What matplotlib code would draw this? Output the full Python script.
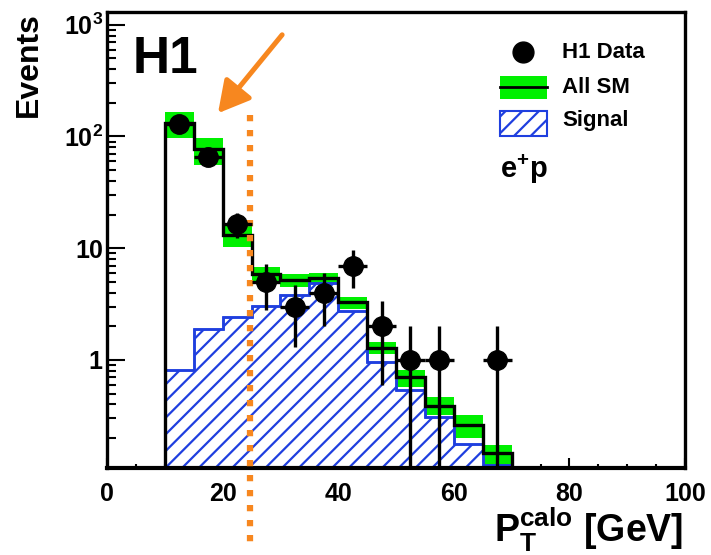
import numpy as np
import matplotlib
matplotlib.use("Agg")
import matplotlib.pyplot as plt
from matplotlib.patches import Rectangle
from matplotlib.ticker import MultipleLocator, LogLocator, FixedLocator, FixedFormatter, NullFormatter
import matplotlib.transforms as mtransforms

plt.rcParams["font.family"] = ["Liberation Sans", "DejaVu Sans"]
plt.rcParams["font.weight"] = "bold"
plt.rcParams["mathtext.fontset"] = "custom"
plt.rcParams["mathtext.rm"] = "Liberation Sans:bold"
plt.rcParams["mathtext.bf"] = "Liberation Sans:bold"
plt.rcParams["mathtext.it"] = "Liberation Sans:bold"
plt.rcParams["hatch.linewidth"] = 1.6

# bins of 5 GeV from 10 to 70
edges = [10, 15, 20, 25, 30, 35, 40, 45, 50, 55, 60, 65, 70]
sm = [132, 77, 13.2, 5.9, 5.2, 5.4, 3.3, 1.28, 0.70, 0.39, 0.26, 0.147]
sm_lo = [97, 56, 10.2, 5.1, 4.5, 4.7, 2.86, 1.13, 0.57, 0.32, 0.20, 0.115]
sm_hi = [166, 97, 15.8, 6.8, 5.9, 6.0, 3.66, 1.45, 0.81, 0.47, 0.32, 0.174]
signal = [0.81, 1.9, 2.4, 3.05, 3.8, 4.9, 2.75, 0.96, 0.54, 0.31, 0.177, 0.115]

data_x = [12.5, 17.5, 22.5, 27.5, 32.5, 37.5, 42.5, 47.5, 52.5, 57.5, 67.5]
data_y = [130, 66, 16.5, 5, 3, 4, 7, 2, 1, 1, 1]
data_err_lo = [11.4, 8.1, 4.1, 2.2, 1.7, 2.0, 2.6, 1.4, 0.999, 0.999, 0.999]
data_err_hi = [11.4, 8.1, 4.1, 2.2, 1.7, 2.0, 2.6, 1.4, 1.0, 1.0, 1.0]

green = "#00f000"
blue = "#1f3fdf"
orange = "#f7871f"

fig = plt.figure(figsize=(7.11, 5.55), dpi=100)
ax = fig.add_axes([107 / 711, 87 / 555, 578 / 711, 456 / 555])
ax.set_yscale("log")
ax.set_xlim(0, 100)
ax.set_ylim(0.108, 1300)

edges = np.array(edges)
centers = (edges[:-1] + edges[1:]) / 2
lo = np.array(sm_lo)
hi = np.array(sm_hi)

# SM uncertainty band
ax.bar(centers, hi - lo, bottom=lo, width=5, color=green, lw=0, zorder=1)
# signal
ax.stairs(signal, edges, baseline=1e-3, fill=True, facecolor="white",
          edgecolor=blue, hatch="//", lw=1.8, zorder=2)
ax.stairs(signal, edges, baseline=1e-3, fill=False, color=blue, lw=1.8, zorder=2.5)
# SM line
ax.stairs(sm, edges, baseline=1e-3, color="black", lw=2.4, zorder=3)

# data
ax.errorbar(data_x, data_y, yerr=[data_err_lo, data_err_hi], xerr=2.5, fmt="o",
            color="black", ms=14, elinewidth=2.4, capsize=0, zorder=5)

# cut line
trans = mtransforms.blended_transform_factory(ax.transData, ax.transAxes)
ax.plot([24.75, 24.75], [0.774, -0.169], transform=trans, color=orange, lw=4.5,
        linestyle=(0, (1, 1.4)), dash_capstyle="butt", clip_on=False, zorder=4)

# arrow
ax.annotate("", xy=(0.192, 0.778), xytext=(0.303, 0.950), xycoords="axes fraction",
            arrowprops=dict(arrowstyle="-|>,head_length=0.95,head_width=0.52",
                            mutation_scale=20, lw=3.6, color=orange,
                            shrinkA=0, shrinkB=0))

# texts
ax.text(0.045, 0.866, "H1", transform=ax.transAxes, fontsize=37, fontweight="bold",
        va="baseline", ha="left")

# legend drawn by hand
ax.plot([0.720], [0.912], "o", color="black", ms=15, transform=ax.transAxes, clip_on=False)
ax.text(0.787, 0.912, "H1 Data", transform=ax.transAxes, fontsize=16, va="center")
ax.add_patch(Rectangle((0.680, 0.809), 0.0813, 0.050, transform=ax.transAxes,
                       facecolor=green, lw=0))
ax.plot([0.680, 0.7613], [0.835, 0.835], color="black", lw=2, transform=ax.transAxes)
ax.text(0.787, 0.835, "All SM", transform=ax.transAxes, fontsize=16, va="center")
ax.add_patch(Rectangle((0.680, 0.728), 0.0813, 0.055, transform=ax.transAxes,
                       facecolor="white", edgecolor=blue, hatch="//", lw=1.5))
ax.text(0.787, 0.763, "Signal", transform=ax.transAxes, fontsize=16, va="center")
ax.text(0.680, 0.636, r"$\mathbf{e^{+}p}$", transform=ax.transAxes, fontsize=21,
        va="baseline", ha="left")

# axes styling
for side in ["left", "right", "top"]:
    ax.spines[side].set_linewidth(2.4)
ax.spines["bottom"].set_linewidth(3)

ax.xaxis.set_major_locator(MultipleLocator(20))
ax.xaxis.set_minor_locator(MultipleLocator(5))
ax.yaxis.set_major_locator(FixedLocator([1, 10, 100, 1000]))
ax.yaxis.set_major_formatter(FixedFormatter(["1", "10", r"$\mathbf{10^{2}}$", r"$\mathbf{10^{3}}$"]))
ax.yaxis.set_minor_locator(LogLocator(base=10, subs=np.arange(2, 10)))
ax.yaxis.set_minor_formatter(NullFormatter())

ax.tick_params(axis="x", which="major", direction="in", length=7, width=1.5,
               labelsize=18, pad=10, top=False)
ax.tick_params(axis="x", which="minor", direction="in", length=3, width=1.5, top=False)
ax.tick_params(axis="y", which="major", direction="in", length=13, width=1.5,
               labelsize=18, pad=3, right=False)
ax.tick_params(axis="y", which="minor", direction="in", length=6.5, width=1.5, right=False)
for lab in ax.get_xticklabels() + ax.get_yticklabels():
    lab.set_fontweight("bold")

fig.text(29 / 711, 1 - 65 / 555, "Events", rotation=90, fontsize=23, fontweight="bold",
         ha="center", va="center")
fig.text(683 / 711, 13 / 555, r"$\mathbf{P_{T}^{calo}}$ [GeV]", fontsize=27,
         fontweight="bold", ha="right", va="baseline")

fig.savefig("out.png", dpi=100)
